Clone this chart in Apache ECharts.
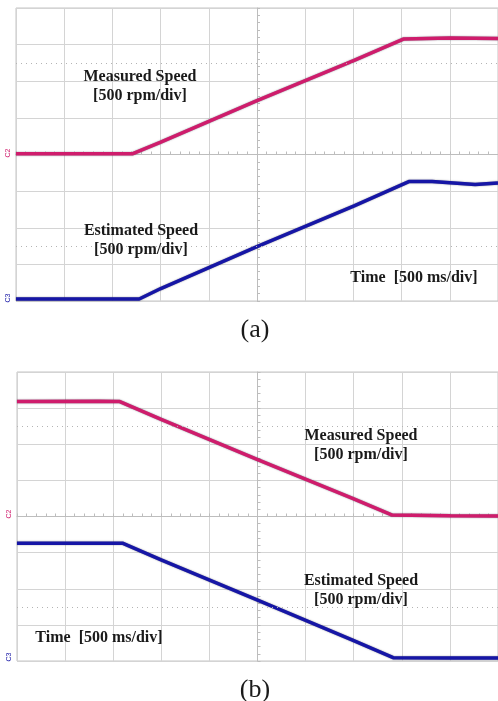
<!DOCTYPE html>
<html>
<head>
<meta charset="utf-8">
<script src="https://cdn.jsdelivr.net/npm/echarts@6/dist/echarts.min.js"></script>
<style>
  html, body { margin: 0; padding: 0; background: #fff; }
  #chart { width: 498px; height: 701px; }
</style>
</head>
<body>
<div id="chart"></div>
<script>
// time in ms (500 ms/div), speed in rpm (500 rpm/div)
const accelTime = [-2500, -1294, -998, 0, 1008, 1524, 2000, 2500];
const accelMeasured = [10, 10, 170, 735, 1285, 1578, 1590, 1585];
const accelEstTime = [-2500, -1222, -998, 0, 1008, 1575, 1816, 2263, 2500];
const accelEstimated = [27, 27, 170, 742, 1300, 1630, 1630, 1590, 1612];

const decelTime = [-2500, -1644, -1431, -1002, -5, 988, 1394, 2000, 2500];
const decelMeasured = [1590, 1595, 1590, 1345, 790, 250, 21, 10, 7];
const decelEstTime = [-2500, -1404, -1002, -5, 988, 1410, 2000, 2500];
const decelEstimated = [1630, 1630, 1400, 845, 290, 46, 42, 42];

const cursorLevels = [1250, -1250];

const magenta = '#cf1c6c';
const blue = '#1616a6';
const gridGray = '#d4d4d4';
const serif = '"Liberation Serif", "DejaVu Serif", serif';

function pairs(xs, ys) {
    return xs.map((x, i) => [x, ys[i]]);
}

function xAxisFor(gridIndex) {
    return {
        type: 'value', gridIndex: gridIndex,
        min: -2500, max: 2500, interval: 500,
        axisLabel: { show: false },
        axisLine: { show: true, onZero: true, lineStyle: { color: '#bdbdbd' } },
        axisTick: { show: true, inside: true, length: 3, lineStyle: { color: '#bdbdbd' } },
        minorTick: { show: true, splitNumber: 5, length: 3, lineStyle: { color: '#bdbdbd' } },
        splitLine: { show: true, lineStyle: { color: gridGray } }
    };
}

function centeredY(gridIndex) {
    return {
        type: 'value', gridIndex: gridIndex,
        min: -2000, max: 2000, interval: 500,
        axisLabel: { show: false },
        axisLine: { show: true, onZero: true, lineStyle: { color: '#bdbdbd' } },
        axisTick: { show: true, inside: true, length: 3, lineStyle: { color: '#bdbdbd' } },
        minorTick: { show: true, splitNumber: 5, length: 3, lineStyle: { color: '#bdbdbd' } },
        splitLine: { show: true, lineStyle: { color: gridGray } }
    };
}

function bottomY(gridIndex) {
    return { type: 'value', gridIndex: gridIndex, min: 0, max: 4000, show: false };
}

function trace(name, xi, yi, data, color, withCursors) {
    const s = {
        name: name, type: 'line',
        xAxisIndex: xi, yAxisIndex: yi,
        data: data, showSymbol: false, silent: true,
        lineStyle: { color: color, width: 3.5, shadowColor: 'rgba(20,20,40,0.55)', shadowBlur: 1.5 },
        z: 3
    };
    if (withCursors) {
        s.markLine = {
            silent: true, symbol: 'none', label: { show: false },
            lineStyle: { color: '#b4b4b4', type: [1, 4], width: 1 },
            data: cursorLevels.map(v => ({ yAxis: v }))
        };
    }
    return s;
}

function label(text, x, y, size, bold) {
    return {
        type: 'text', x: x, y: y, silent: true, z: 10,
        style: {
            text: text, fill: '#1a1a1a',
            font: (bold ? 'bold ' : '') + size + 'px ' + serif,
            textAlign: 'center', textVerticalAlign: 'middle', lineHeight: 19
        }
    };
}

function marker(text, x, y, color) {
    return {
        type: 'text', x: x, y: y, rotation: Math.PI / 2, silent: true, z: 10,
        style: { text: text, fill: color, font: '7px sans-serif', textAlign: 'center', textVerticalAlign: 'middle' }
    };
}

const chart = echarts.init(document.getElementById('chart'));

const option = {
    animation: false,
    backgroundColor: '#fff',
    grid: [
        { left: 16, top: 8, width: 485, height: 293, show: true, borderColor: '#c4c4c4', borderWidth: 1 },
        { left: 17, top: 372, width: 485, height: 289, show: true, borderColor: '#c4c4c4', borderWidth: 1 }
    ],
    xAxis: [xAxisFor(0), xAxisFor(1)],
    yAxis: [centeredY(0), bottomY(0), centeredY(1), bottomY(1)],
    series: [
        trace('Measured Speed (a)', 0, 0, pairs(accelTime, accelMeasured), magenta, true),
        trace('Estimated Speed (a)', 0, 1, pairs(accelEstTime, accelEstimated), blue, false),
        trace('Measured Speed (b)', 1, 2, pairs(decelTime, decelMeasured), magenta, true),
        trace('Estimated Speed (b)', 1, 3, pairs(decelEstTime, decelEstimated), blue, false)
    ],
    graphic: [
        label('Measured Speed\n[500 rpm/div]', 140, 86, 16, true),
        label('Estimated Speed\n[500 rpm/div]', 141, 240, 16, true),
        label('Time  [500 ms/div]', 414, 278, 16, true),
        label('Measured Speed\n[500 rpm/div]', 361, 445, 16, true),
        label('Estimated Speed\n[500 rpm/div]', 361, 590, 16, true),
        label('Time  [500 ms/div]', 99, 638, 16, true),
        label('(a)', 255, 330, 26, false),
        label('(b)', 255, 690, 26, false),
        marker('C2', 8, 153, magenta),
        marker('C3', 8, 298, blue),
        marker('C2', 9, 514, magenta),
        marker('C3', 9, 657, blue)
    ]
};

chart.setOption(option);
</script>
</body>
</html>
